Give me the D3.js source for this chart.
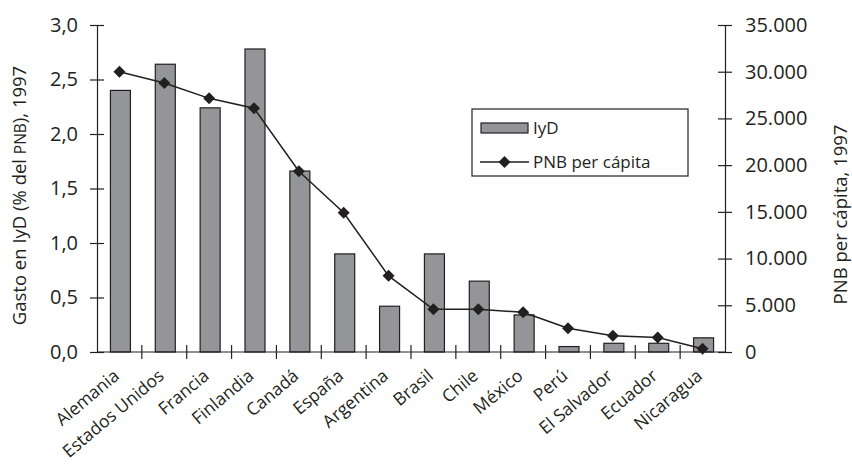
<!DOCTYPE html>
<html>
<head>
<meta charset="utf-8">
<script src="https://cdn.jsdelivr.net/npm/d3@7"></script>
<style>
  html, body { margin: 0; padding: 0; background: #fff; }
  svg { display: block; }
  text { font-family: "Open Sans", "Noto Sans", sans-serif; fill: #231f20; }
</style>
</head>
<body>
<svg id="chart" width="852" height="465"></svg>
<script>
// R&D spending (% of GNP) and GNP per capita, 1997
const paises = ["Alemania", "Estados Unidos", "Francia", "Finlandia", "Canadá", "España",
  "Argentina", "Brasil", "Chile", "México", "Perú", "El Salvador", "Ecuador", "Nicaragua"];
const gastoIyD = [2.40, 2.64, 2.24, 2.78, 1.66, 0.90, 0.42, 0.90, 0.65, 0.34, 0.05, 0.08, 0.08, 0.13];
const pnbPerCapita = [30000, 28800, 27150, 26100, 19350, 14900, 8150, 4570, 4570, 4250, 2550, 1750, 1550, 350];
const ticksIzq = [0, 0.5, 1, 1.5, 2, 2.5, 3];
const ticksDer = [0, 5000, 10000, 15000, 20000, 25000, 30000, 35000];

const svg = d3.select("#chart");
const ink = "#231f20";
const plotL = 97, plotR = 725, plotT = 25, plotB = 352;

const locale = d3.formatLocale({ decimal: ",", thousands: ".", grouping: [3], currency: ["", ""] });
const fmtIzq = locale.format(".1f");
const fmtDer = locale.format(",d");

const x = d3.scaleBand().domain(paises).range([plotL, plotR]);
const yIzq = d3.scaleLinear().domain([0, 3]).range([plotB, plotT]);
const yDer = d3.scaleLinear().domain([0, 35000]).range([plotB, plotT]);

const barW = 20;

// R&D bars (left axis)
svg.append("g").selectAll("rect").data(paises).join("rect")
  .attr("x", (d, i) => x(d) + x.bandwidth() / 2 - barW / 2 + 1)
  .attr("y", (d, i) => yIzq(gastoIyD[i]))
  .attr("width", barW)
  .attr("height", (d, i) => yIzq(0) - yIzq(gastoIyD[i]))
  .attr("fill", "#939598")
  .attr("stroke", ink)
  .attr("stroke-width", 1.2);

// Value axes, ticks crossing the axis line
const axisLeft = d3.axisLeft(yIzq).tickValues(ticksIzq).tickFormat(fmtIzq).tickSizeInner(7).tickSizeOuter(0).tickPadding(12);
const gL = svg.append("g").attr("transform", `translate(${plotL},0)`).call(axisLeft);
const axisRight = d3.axisRight(yDer).tickValues(ticksDer).tickFormat(fmtDer).tickSizeInner(7).tickSizeOuter(0).tickPadding(13);
const gR = svg.append("g").attr("transform", `translate(${plotR},0)`).call(axisRight);
[gL, gR].forEach(g => {
  g.select(".domain").attr("stroke", ink).attr("stroke-width", 1.2);
  g.selectAll(".tick line").attr("stroke", ink).attr("stroke-width", 1.2);
  g.selectAll(".tick text").style("font-size", "20px").attr("fill", ink);
});
gL.selectAll(".tick line").attr("x1", 7);
gR.selectAll(".tick line").attr("x1", -7);

// Category axis with ticks between categories
svg.append("line").attr("x1", plotL).attr("x2", plotR).attr("y1", plotB).attr("y2", plotB)
  .attr("stroke", ink).attr("stroke-width", 1.2);
svg.append("g").selectAll("line").data(paises.slice(1)).join("line")
  .attr("x1", d => x(d)).attr("x2", d => x(d))
  .attr("y1", plotB - 7).attr("y2", plotB + 7)
  .attr("stroke", ink).attr("stroke-width", 1.2);

svg.append("g").selectAll("text").data(paises).join("text")
  .attr("transform", d => `translate(${x(d) + x.bandwidth() / 2 - 3},${plotB + 21}) rotate(-40)`)
  .attr("text-anchor", "end")
  .attr("dy", "0.35em")
  .style("font-size", "17.5px")
  .text(d => d);

// GNP per capita line (right axis)
const line = d3.line()
  .x((d, i) => x(paises[i]) + x.bandwidth() / 2)
  .y(d => yDer(d));
svg.append("path").datum(pnbPerCapita).attr("d", line)
  .attr("fill", "none").attr("stroke", ink).attr("stroke-width", 1.5);
const diamond = d3.symbol().type(d3.symbolSquare).size(72);
svg.append("g").selectAll("path").data(pnbPerCapita).join("path")
  .attr("transform", (d, i) => `translate(${x(paises[i]) + x.bandwidth() / 2},${yDer(d)}) rotate(45)`)
  .attr("d", diamond)
  .attr("fill", ink);

// Axis titles
const tL = svg.append("text")
  .attr("transform", `translate(26,${(plotT + plotB) / 2 + 7}) rotate(-90)`)
  .attr("text-anchor", "middle")
  .style("font-size", "18.5px");
tL.append("tspan").text("Gasto en IyD (% del ");
tL.append("tspan").style("font-size", "15.5px").text("PNB");
tL.append("tspan").text("), 1997");
svg.append("text")
  .attr("transform", `translate(847,${(plotT + plotB) / 2 + 26}) rotate(-90)`)
  .attr("text-anchor", "middle")
  .style("font-size", "18.5px")
  .text("PNB per cápita, 1997");

// Legend
const lg = svg.append("g").attr("transform", "translate(472,109)");
lg.append("rect").attr("width", 216).attr("height", 67)
  .attr("fill", "#fff").attr("stroke", ink).attr("stroke-width", 1.2);
lg.append("rect").attr("x", 9).attr("y", 14).attr("width", 47).attr("height", 10)
  .attr("fill", "#939598").attr("stroke", ink).attr("stroke-width", 1.2);
lg.append("text").attr("x", 61).attr("y", 19).attr("dy", "0.35em").style("font-size", "17px").text("IyD");
lg.append("line").attr("x1", 8).attr("x2", 57).attr("y1", 53).attr("y2", 53)
  .attr("stroke", ink).attr("stroke-width", 1.5);
lg.append("path").attr("transform", "translate(32.5,53) rotate(45)").attr("d", diamond).attr("fill", ink);
lg.append("text").attr("x", 61).attr("y", 53).attr("dy", "0.35em").style("font-size", "17px").text("PNB per cápita");
</script>
</body>
</html>
